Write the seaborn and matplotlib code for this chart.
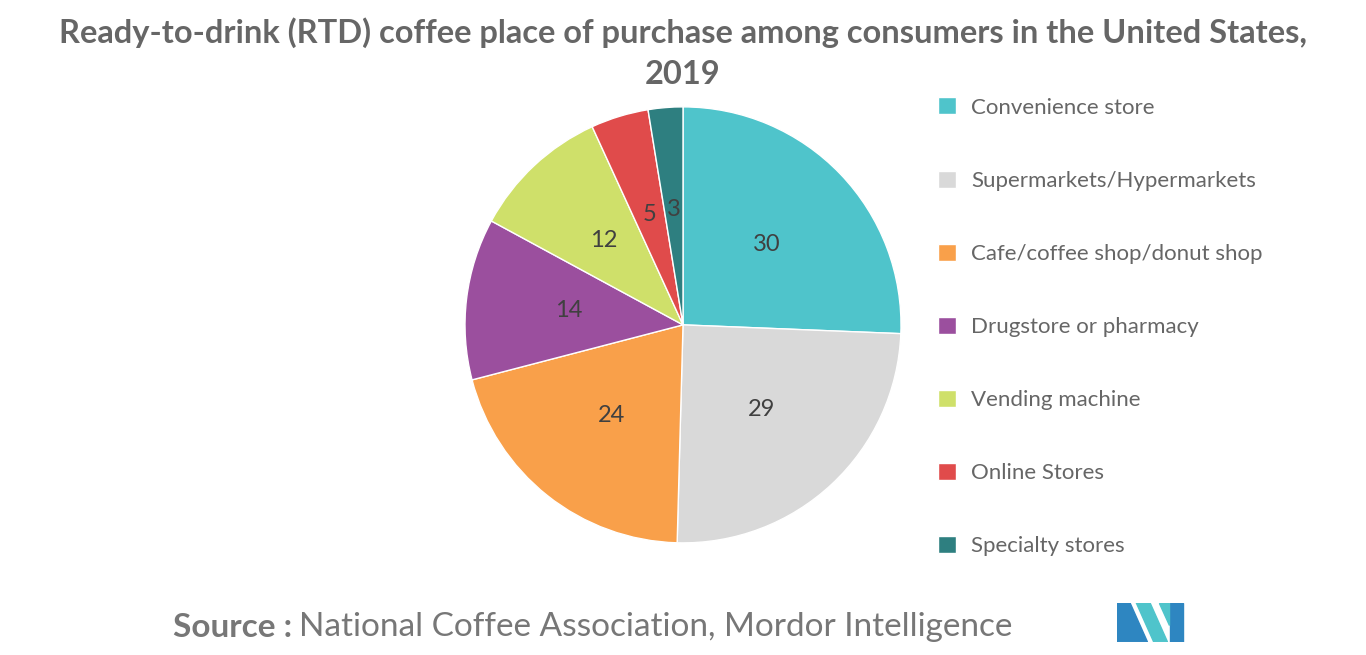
import matplotlib.pyplot as plt
import seaborn as sns
from matplotlib.patches import Polygon

sns.set_style("white")
plt.rcParams["font.family"] = "Lato"

categories = ["Convenience store", "Supermarkets/Hypermarkets", "Cafe/coffee shop/donut shop",
              "Drugstore or pharmacy", "Vending machine", "Online Stores", "Specialty stores"]
values = [30, 29, 24, 14, 12, 5, 3]
colors = ["#4FC4CB", "#D9D9D9", "#F9A04A", "#9B4F9E", "#CFE06A", "#E04B4B", "#2E7F80"]

fig = plt.figure(figsize=(13.66, 6.55), dpi=100)
fig.text(0.5, 0.95, "Ready-to-drink (RTD) coffee place of purchase among consumers in the United States,",
         ha="center", va="center", fontsize=23.5, fontweight="bold", color="#666666")
fig.text(0.5, 0.887, "2019", ha="center", va="center", fontsize=23.5, fontweight="bold", color="#666666")

ax = fig.add_axes([0.5 - 218 / 1366, 0.504 - 0.333, 436 / 1366, 0.666])
total = sum(values)
wedges, texts, autotexts = ax.pie(values, colors=colors, startangle=90, counterclock=False,
                                  autopct=lambda p: f"{p * total / 100:.0f}", pctdistance=0.53,
                                  textprops={"fontsize": 17, "color": "#404040"})
ax.set_xlim(-1, 1)
ax.set_ylim(-1, 1)
ax.set_aspect("equal")

lax = fig.add_axes([0.68, 0.12, 0.3, 0.75])
lax.axis("off")
lax.legend(wedges, categories, loc="upper left", frameon=False, fontsize=16,
           labelcolor="#666666", handlelength=0.8, handleheight=0.8, labelspacing=2.38,
           borderaxespad=0, handletextpad=0.7, bbox_to_anchor=(0.0, 0.993))

fig.text(0.127, 0.042, "Source :", fontsize=24, fontweight="bold", color="#777777", va="center")
fig.text(0.219, 0.042, "National Coffee Association, Mordor Intelligence", fontsize=24,
         color="#777777", va="center")

# logo
lg = fig.add_axes([0.818, 0.02, 0.055, 0.06])
lg.set_xlim(0, 6); lg.set_ylim(0, 3); lg.axis("off")
lg.add_patch(Polygon([(0, 0), (0, 3), (1, 3), (2.4, 0)], color="#2E86C1"))
lg.add_patch(Polygon([(1.5, 3), (2.6, 3), (4, 0), (2.9, 0)], color="#4FC4CB"))
lg.add_patch(Polygon([(4.2, 3), (5.2, 3), (5.2, 0), (4.2, 0)], color="#2E86C1"))
lg.add_patch(Polygon([(3.3, 3), (4.1, 3), (4.1, 1.3)], color="#4FC4CB"))

fig.savefig("out.png", dpi=100)
